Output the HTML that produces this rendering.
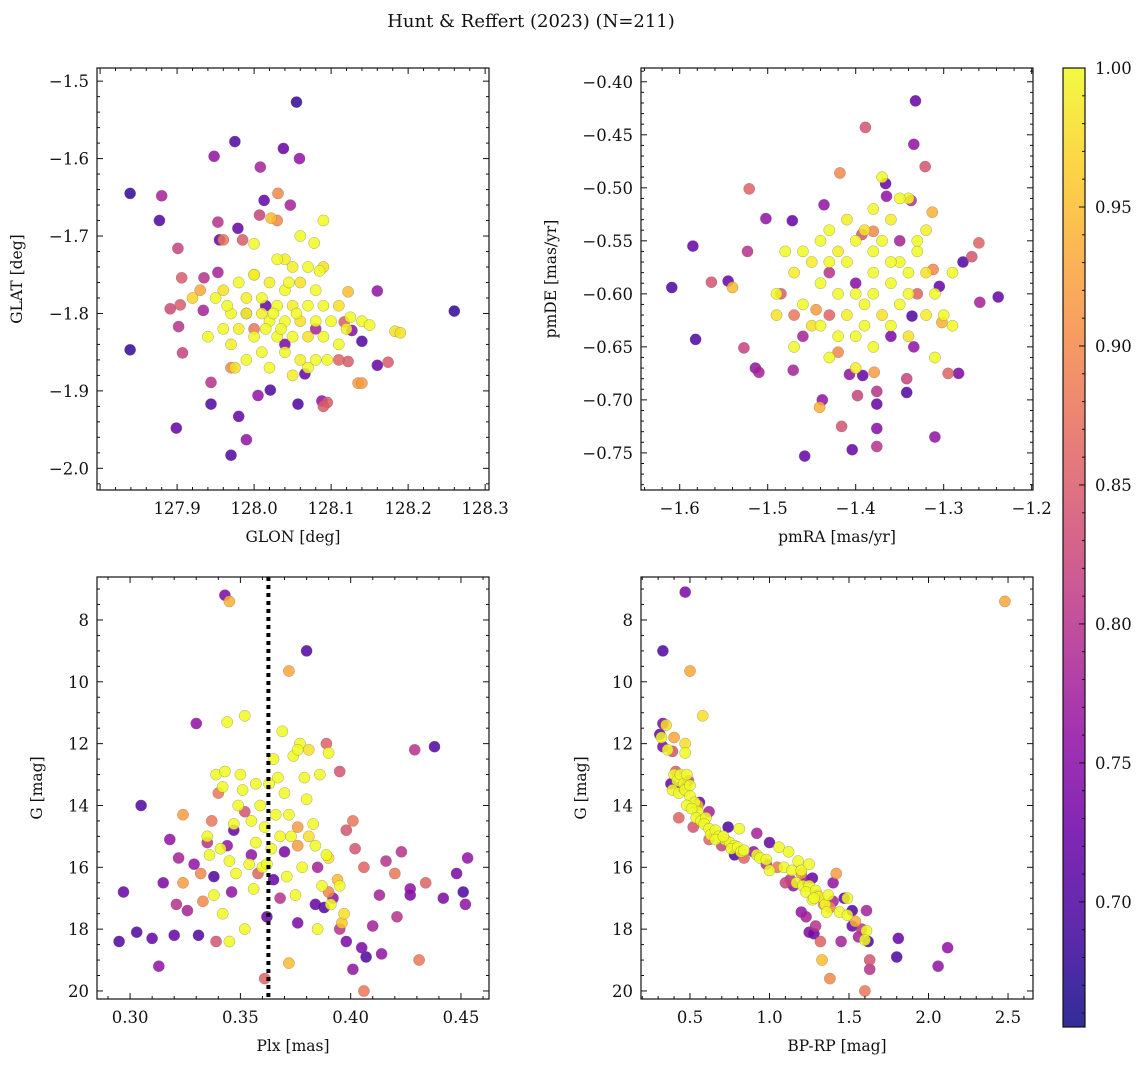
<!DOCTYPE html>
<html><head><meta charset="utf-8"><style>
html,body{margin:0;padding:0;background:#fff;}
svg{display:block;font-family:"DejaVu Serif","Liberation Serif",serif;}
</style></head><body>
<svg id="fig" width="1148" height="1067" viewBox="0 0 1148 1067" xmlns="http://www.w3.org/2000/svg">
<text x="531" y="27" text-anchor="middle" font-size="18" fill="#111">Hunt &amp; Reffert (2023) (N=211)</text>
</svg>
<script>
// ---------- data (value arrays: [x, y, membership probability]) ----------
const posPts = [
[127.839,-1.645,0.68],[127.839,-1.847,0.68],[127.877,-1.680,0.70],[127.880,-1.648,0.78],[127.899,-1.948,0.72],[127.901,-1.716,0.82],
[127.906,-1.754,0.85],[127.904,-1.789,0.85],[127.902,-1.817,0.80],[127.907,-1.851,0.82],[127.891,-1.794,0.83],[127.935,-1.754,0.80],
[127.934,-1.796,0.78],[127.944,-1.889,0.80],[127.944,-1.917,0.70],[127.948,-1.597,0.76],[127.953,-1.682,0.80],[127.955,-1.705,0.72],
[127.953,-1.747,0.78],[127.975,-1.578,0.70],[127.979,-1.690,0.72],[127.980,-1.933,0.72],[127.990,-1.963,0.76],[127.970,-1.983,0.70],
[128.008,-1.611,0.78],[128.007,-1.673,0.82],[128.013,-1.654,0.72],[128.022,-1.677,0.95],[128.031,-1.645,0.90],[128.038,-1.587,0.72],
[128.055,-1.527,0.68],[128.059,-1.600,0.76],[128.047,-1.660,0.78],[128.021,-1.899,0.70],[128.005,-1.906,0.76],[128.057,-1.917,0.70],
[128.088,-1.913,0.76],[128.095,-1.915,0.85],[128.078,-1.709,1.00],[128.260,-1.797,0.68],[128.160,-1.867,0.72],[128.174,-1.863,0.85],
[128.135,-1.890,0.92],[128.160,-1.771,0.76],[128.183,-1.823,0.98],[128.122,-1.772,0.95],[128.117,-1.811,0.85],[128.127,-1.822,0.75],
[128.122,-1.862,0.85],[128.140,-1.836,0.70],[128.066,-1.878,0.72],[128.015,-1.790,0.72],[127.985,-1.705,0.85],[127.960,-1.705,0.88],
[128.030,-1.680,0.90],[128.000,-1.750,0.93],[127.970,-1.870,0.90],[127.930,-1.770,0.93],[128.000,-1.820,0.88],[128.140,-1.890,0.92],
[128.110,-1.860,0.86],[128.090,-1.920,0.85],[128.080,-1.820,0.78],[128.040,-1.840,0.74],[127.990,-1.800,0.80],
[128.03,-1.73,1],[128.05,-1.74,0.99],[128.07,-1.74,1],[128.09,-1.74,0.98],[128.00,-1.75,1],[128.02,-1.76,0.99],[127.98,-1.76,1],
[127.96,-1.77,0.98],[127.95,-1.78,1],[127.99,-1.78,0.99],[128.01,-1.78,1],[128.04,-1.77,1],[128.06,-1.76,0.98],[128.08,-1.77,1],
[128.03,-1.79,1],[128.05,-1.79,0.99],[128.07,-1.79,1],[128.09,-1.79,1],[128.11,-1.79,0.98],[127.97,-1.80,1],[127.99,-1.80,1],
[128.01,-1.80,0.99],[128.02,-1.81,1],[128.04,-1.81,1],[128.06,-1.81,0.98],[128.08,-1.81,1],[128.10,-1.81,1],[128.12,-1.82,0.99],
[128.14,-1.81,1],[127.96,-1.82,1],[127.98,-1.82,0.99],[128.00,-1.83,1],[128.03,-1.83,1],[128.05,-1.83,1],[128.07,-1.83,0.98],
[128.09,-1.83,1],[128.11,-1.84,1],[127.97,-1.84,0.99],[128.01,-1.85,1],[128.04,-1.85,1],[128.06,-1.86,0.99],[128.08,-1.86,1],
[127.99,-1.86,1],[127.975,-1.87,0.98],[128.02,-1.87,1],[128.07,-1.87,1],[128.05,-1.88,0.99],[128.00,-1.71,1],[128.06,-1.70,1],
[128.09,-1.68,1],[128.04,-1.73,0.99],[128.125,-1.805,1],[127.94,-1.83,1],[127.92,-1.78,0.97],[128.19,-1.825,0.98],[128.15,-1.815,1],
[128.085,-1.745,1],[128.045,-1.76,1],[128.025,-1.80,1],[128.055,-1.80,1],[128.015,-1.82,1],[128.035,-1.82,1],[127.965,-1.79,1],[128.095,-1.86,1]
];
const pmPts = [
[-1.609,-0.594,0.70],[-1.585,-0.555,0.72],[-1.582,-0.643,0.70],[-1.564,-0.589,0.84],[-1.545,-0.588,0.72],[-1.540,-0.594,0.95],
[-1.527,-0.651,0.82],[-1.523,-0.560,0.80],[-1.514,-0.670,0.76],[-1.510,-0.674,0.78],[-1.521,-0.501,0.86],[-1.502,-0.529,0.76],
[-1.472,-0.531,0.72],[-1.471,-0.672,0.78],[-1.458,-0.753,0.72],[-1.436,-0.516,0.76],[-1.438,-0.700,0.76],[-1.441,-0.707,0.94],
[-1.418,-0.486,0.90],[-1.416,-0.725,0.84],[-1.404,-0.747,0.72],[-1.407,-0.676,0.76],[-1.398,-0.696,0.82],[-1.392,-0.677,0.72],
[-1.389,-0.443,0.84],[-1.376,-0.692,0.80],[-1.376,-0.727,0.75],[-1.376,-0.744,0.80],[-1.376,-0.704,0.72],[-1.379,-0.674,0.92],
[-1.366,-0.496,0.72],[-1.365,-0.508,0.76],[-1.342,-0.693,0.70],[-1.342,-0.680,0.82],[-1.336,-0.621,0.70],[-1.334,-0.650,0.76],
[-1.334,-0.459,0.76],[-1.332,-0.418,0.72],[-1.321,-0.480,0.84],[-1.313,-0.523,0.94],[-1.310,-0.735,0.76],[-1.312,-0.577,0.90],
[-1.305,-0.593,0.72],[-1.302,-0.627,0.94],[-1.295,-0.675,0.86],[-1.283,-0.675,0.74],[-1.278,-0.570,0.70],[-1.268,-0.565,0.84],
[-1.260,-0.552,0.86],[-1.259,-0.608,0.78],[-1.238,-0.603,0.72],[-1.337,-0.512,0.80],[-1.380,-0.541,0.90],[-1.393,-0.544,0.84],
[-1.430,-0.620,0.86],[-1.445,-0.615,0.92],[-1.420,-0.655,0.90],[-1.460,-0.640,0.78],[-1.350,-0.550,0.78],[-1.400,-0.590,0.75],
[-1.470,-0.620,0.88],[-1.430,-0.580,0.80],[-1.360,-0.640,0.74],[-1.485,-0.600,0.85],[-1.330,-0.600,0.86],
[-1.48,-0.56,1],[-1.47,-0.58,0.99],[-1.49,-0.60,1],[-1.46,-0.61,1],[-1.45,-0.63,0.98],[-1.44,-0.55,1],[-1.43,-0.54,1],
[-1.42,-0.56,0.99],[-1.41,-0.57,1],[-1.40,-0.55,1],[-1.39,-0.54,0.98],[-1.38,-0.56,1],[-1.37,-0.55,1],[-1.36,-0.53,0.99],
[-1.35,-0.57,1],[-1.34,-0.58,1],[-1.33,-0.56,1],[-1.32,-0.58,0.98],[-1.31,-0.60,1],[-1.30,-0.62,1],[-1.42,-0.60,1],
[-1.41,-0.62,0.99],[-1.40,-0.64,1],[-1.39,-0.61,1],[-1.38,-0.60,1],[-1.37,-0.62,0.98],[-1.36,-0.59,1],[-1.35,-0.61,1],
[-1.44,-0.59,1],[-1.45,-0.57,0.99],[-1.47,-0.65,1],[-1.43,-0.66,1],[-1.40,-0.67,0.99],[-1.38,-0.65,1],[-1.36,-0.63,1],
[-1.34,-0.64,0.98],[-1.33,-0.55,1],[-1.37,-0.49,1],[-1.34,-0.51,1],[-1.32,-0.54,0.99],[-1.29,-0.58,1],[-1.29,-0.63,1],
[-1.35,-0.51,1],[-1.38,-0.52,1],[-1.41,-0.53,0.99],[-1.43,-0.57,1],[-1.46,-0.56,1],[-1.44,-0.63,1],[-1.42,-0.64,1],
[-1.40,-0.60,1],[-1.38,-0.58,1],[-1.36,-0.57,1],[-1.34,-0.60,1],[-1.32,-0.62,0.99],[-1.31,-0.66,1],[-1.39,-0.63,1],[-1.49,-0.62,0.98]
];
const plxPts = [
[0.295,18.4,0.70],[0.297,16.8,0.72],[0.303,18.1,0.70],[0.305,14.0,0.70],[0.310,18.3,0.72],[0.313,19.2,0.76],[0.315,16.5,0.74],
[0.318,15.1,0.76],[0.320,18.2,0.72],[0.321,17.2,0.80],[0.322,15.7,0.78],[0.324,14.3,0.92],[0.324,16.5,0.92],[0.326,17.4,0.78],
[0.329,15.9,0.76],[0.330,11.35,0.76],[0.331,18.2,0.70],[0.332,16.2,0.90],[0.333,17.1,0.90],[0.335,15.2,0.80],[0.337,14.5,0.88],
[0.338,16.3,0.70],[0.339,18.4,0.84],[0.340,13.6,0.88],[0.343,7.2,0.74],[0.345,7.4,0.94],[0.344,15.3,0.76],[0.346,16.8,0.76],
[0.347,14.8,0.72],[0.361,19.6,0.86],[0.372,9.65,0.93],[0.380,9.0,0.70],[0.389,12.0,0.86],[0.395,12.9,0.84],[0.398,14.8,0.84],
[0.401,14.5,0.88],[0.402,15.4,0.84],[0.406,16.0,0.86],[0.405,18.6,0.74],[0.407,18.9,0.70],[0.406,20.0,0.88],[0.410,17.9,0.78],
[0.413,16.9,0.78],[0.414,18.8,0.76],[0.416,15.8,0.80],[0.420,16.2,0.88],[0.421,17.6,0.80],[0.423,15.5,0.80],[0.427,16.7,0.76],
[0.427,16.9,0.74],[0.429,12.2,0.80],[0.431,19.0,0.88],[0.434,16.5,0.86],[0.438,12.1,0.70],[0.442,17.0,0.74],[0.448,16.2,0.74],
[0.451,16.8,0.70],[0.452,17.2,0.76],[0.453,15.7,0.76],[0.395,18.0,0.80],[0.398,18.4,0.74],[0.401,19.3,0.76],[0.390,16.8,0.90],
[0.388,17.3,0.70],[0.384,17.2,0.72],[0.376,17.8,0.74],[0.372,19.1,0.95],[0.392,17.0,0.76],[0.376,14.7,0.92],[0.365,16.4,0.72],
[0.362,17.6,0.72],[0.368,17.0,0.80],[0.355,15.6,0.76],[0.352,14.2,0.84],[0.358,16.2,0.86],[0.370,15.5,0.74],[0.385,16.0,0.78],
[0.394,16.4,0.95],[0.397,17.5,0.98],[0.396,17.8,0.96],[0.390,15.7,0.98],[0.381,15.0,0.98],[0.386,13.0,1.0],[0.381,12.2,0.98],
[0.376,15.3,0.92],[0.352,18.0,1],[0.345,18.4,1],[0.342,17.5,1],[0.338,16.9,1],[0.336,15.6,1],[0.335,15.0,1],[0.339,13.0,1],
[0.342,13.4,1],[0.344,11.3,1],[0.352,11.1,1],[0.350,13.0,1],[0.351,13.5,1],[0.355,14.5,1],[0.357,15.2,1],[0.356,16.7,1],
[0.359,14.0,1],[0.361,14.7,1],[0.363,13.3,1],[0.365,12.5,1],[0.367,13.1,1],[0.369,11.6,1],[0.370,13.6,1],[0.372,14.3,1],
[0.373,15.0,1],[0.371,16.3,1],[0.375,16.9,1],[0.378,16.0,1],[0.379,13.1,1],[0.377,12.0,1],[0.380,13.8,1],[0.383,14.6,1],
[0.384,15.3,1],[0.387,16.6,1],[0.389,15.6,1],[0.391,17.2,1],[0.395,16.6,1],[0.345,15.8,1],[0.348,16.2,1],[0.341,15.4,1],
[0.347,14.6,1],[0.354,15.9,1],[0.360,16.0,1],[0.364,15.4,1],[0.366,14.3,1],[0.374,12.4,1],[0.376,12.2,1],[0.385,18.0,1],
[0.390,12.3,1],[0.343,12.9,1],[0.349,14.0,1],[0.357,13.3,1],[0.362,15.9,1],[0.368,15.0,1]
];
const cmdPts = [
[0.47,7.1,0.74],[2.48,7.4,0.93],[0.33,9.0,0.70],[0.50,9.65,0.93],[0.58,11.1,0.98],[0.31,11.7,0.72],[0.33,11.35,0.74],
[0.35,11.4,0.98],[0.33,12.1,0.74],[0.39,12.25,0.84],[0.40,11.8,0.93],[0.47,12.0,0.98],[0.47,12.3,1],[0.36,12.2,1],[0.32,11.8,1],
[1.81,18.3,0.72],[1.80,18.9,0.70],[2.06,19.2,0.76],[2.12,18.6,0.76],[1.62,18.4,0.70],[1.63,19.3,0.80],[1.60,20.0,0.88],
[1.38,19.6,0.90],[1.33,19.0,0.95],[1.32,18.4,0.86],[1.25,18.1,0.74],[1.28,18.15,0.72],[1.29,17.9,0.80],[1.20,17.45,0.76],
[1.23,17.6,0.78],[1.58,18.0,0.80],[1.56,18.25,0.78],[1.61,17.4,0.78],[1.52,17.4,0.70],[1.47,17.0,0.72],[1.40,16.5,0.76],
[1.45,18.4,0.78],[1.63,19.0,0.84],[1.52,17.9,0.72],[1.54,17.75,0.94],[0.38,13.3,0.72],[0.44,13.4,0.78],[0.56,13.9,0.72],
[0.62,14.2,0.78],[0.74,14.7,0.70],[0.92,14.9,0.78],[1.00,15.2,0.72],[0.55,14.0,0.95],[0.41,12.9,0.85],[0.49,13.2,0.82],
[0.43,14.4,0.86],[0.52,14.7,0.84],[0.62,15.1,0.86],[0.70,15.3,0.82],[0.84,15.7,0.86],[0.98,15.9,0.80],[1.05,16.0,0.88],
[1.13,16.4,0.80],[1.15,16.6,0.76],[1.22,16.4,0.76],[1.30,16.9,0.84],[1.34,17.2,0.90],[1.40,17.1,0.78],[1.38,17.3,0.90],
[1.42,16.2,0.92],[1.20,16.2,0.92],[1.27,16.35,0.72],[0.78,15.6,0.70],[0.90,15.5,0.76],[1.10,16.5,0.82],
[0.40,13.0,1],[0.42,13.2,1],[0.44,13.0,1],[0.46,13.3,1],[0.48,13.0,1],[0.39,13.5,1],[0.43,13.6,1],[0.47,13.5,1],[0.50,13.35,1],
[0.50,13.7,1],[0.53,13.9,1],[0.55,14.2,1],[0.48,14.0,1],[0.51,14.1,1],[0.54,14.4,1],[0.57,14.5,1],[0.60,14.4,1],[0.59,14.6,1],
[0.62,14.75,1],[0.63,14.95,1],[0.66,14.8,1],[0.68,15.0,1],[0.72,15.1,1],[0.75,15.2,1],[0.78,15.3,1],[0.76,15.4,1],[0.80,15.35,1],
[0.82,15.5,1],[0.84,15.45,1],[0.92,15.6,1],[0.94,15.7,1],[0.98,15.75,1],[1.06,15.35,1],[1.12,15.5,1],[1.09,16.0,1],[1.14,16.1,1],
[1.18,15.8,1],[1.20,16.1,1],[1.25,15.9,1],[1.17,16.5,1],[1.21,16.6,1],[1.25,16.6,1],[1.23,16.8,1],[1.29,16.75,1],[1.31,16.95,1],
[1.27,17.05,1],[1.35,17.2,1],[1.36,17.45,1],[1.28,17.0,1],[1.37,16.9,1],[1.44,17.45,1],[1.49,17.55,1],[1.49,17.0,1],
[1.61,18.05,1],[1.60,18.35,1],[0.81,14.75,1],[0.66,15.1,1],[0.71,15.0,1],[1.00,16.1,1]
];
const cbTicks = [0.70,0.75,0.80,0.85,0.90,0.95,1.00];
const pMin = 0.655, pMax = 1.0;

// ---------- helpers ----------
const NS = "http://www.w3.org/2000/svg";
const svg = document.getElementById("fig");
function mk(tag, attrs, parent) {
  const e = document.createElementNS(NS, tag);
  for (const k in attrs) e.setAttribute(k, attrs[k]);
  (parent || svg).appendChild(e);
  return e;
}
const plasma = [[0,13,8,135],[0.1,65,4,157],[0.2,106,0,168],[0.3,143,13,164],[0.4,177,42,144],[0.5,204,71,120],[0.6,225,100,98],[0.7,242,132,75],[0.8,252,166,54],[0.9,252,206,37],[1,240,249,33]];
function cmap(t) {
  t = Math.max(0, Math.min(1, t));
  for (let i = 1; i < plasma.length; i++) {
    if (t <= plasma[i][0]) {
      const a = plasma[i-1], b = plasma[i], f = (t - a[0]) / (b[0] - a[0]);
      return `rgb(${Math.round(a[1]+f*(b[1]-a[1]))},${Math.round(a[2]+f*(b[2]-a[2]))},${Math.round(a[3]+f*(b[3]-a[3]))})`;
    }
  }
  return "rgb(240,249,33)";
}
function pcolor(p){ return cmap((p - pMin) / (pMax - pMin)); }

function panel(cfg) {
  const g = mk("g", {});
  
  
  const {L, T, W, H, x0, x1, y0, y1} = cfg;
  const sx = v => L + (v - x0) / (x1 - x0) * W;
  const syy = cfg.invert ? (v => T + (v - y0) / (y1 - y0) * H) : (v => T + (y1 - v) / (y1 - y0) * H);
  const pts = cfg.pts.slice().sort((a, b) => a[2] - b[2]);
  const clip = mk("clipPath", {id: "c" + cfg.name}, g);
  mk("rect", {x: L, y: T, width: W, height: H}, clip);
  const mg = mk("g", {"clip-path": `url(#c${cfg.name})`}, g);
  
  
  for (const p of pts) {
    const c = mk("circle", {cx: sx(p[0]).toFixed(1), cy: syy(p[1]).toFixed(1), r: 5.6, fill: pcolor(p[2]), "fill-opacity": 0.85, stroke: "#666", "stroke-width": 0.4, "stroke-opacity": 0.7}, mg);
    
    
  }
  if (cfg.vline !== undefined) {
    const ln = mk("line", {x1: sx(cfg.vline), x2: sx(cfg.vline), y1: T, y2: T + H, stroke: "#000", "stroke-width": 4, "stroke-dasharray": "4,4"}, mg);
    
    
  }
  mk("rect", {x: L, y: T, width: W, height: H, fill: "none", stroke: "#111", "stroke-width": 1.2}, g);
  const tg = mk("g", {stroke: "#111", "stroke-width": 1}, g);
  for (let v = cfg.xMinorStart; v <= x1 + 1e-9; v += cfg.xMinor) {
    if (v < x0) continue;
    const X = sx(v); const major = Math.abs(Math.round(v / cfg.xMajor) * cfg.xMajor - v) < 1e-6;
    const len = major ? 6 : 3;
    mk("line", {x1: X, x2: X, y1: T + H, y2: T + H - len}, tg);
    mk("line", {x1: X, x2: X, y1: T, y2: T + len}, tg);
  }
  for (let v = cfg.yMinorStart; v <= y1 + 1e-9; v += cfg.yMinor) {
    if (v < y0) continue;
    const Y = syy(v); const major = Math.abs(Math.round(v / cfg.yMajor) * cfg.yMajor - v) < 1e-6;
    const len = major ? 6 : 3;
    mk("line", {x1: L, x2: L + len, y1: Y, y2: Y}, tg);
    mk("line", {x1: L + W, x2: L + W - len, y1: Y, y2: Y}, tg);
  }
  for (const v of cfg.xTicks) {
    const t = mk("text", {x: sx(v), y: T + H + 24, "text-anchor": "middle", "font-size": 16.5, fill: "#111"}, g);
    t.textContent = cfg.xFmt(v);
    
    
  }
  for (const v of cfg.yTicks) {
    const t = mk("text", {x: L - 8, y: syy(v) + 6, "text-anchor": "end", "font-size": 16.5, fill: "#111"}, g);
    t.textContent = cfg.yFmt(v);
    
    
  }
  const xt = mk("text", {x: L + W / 2, y: T + H + 52, "text-anchor": "middle", "font-size": 15.5, fill: "#111"}, g);
  xt.textContent = cfg.xLabel;
  
  
  const yt = mk("text", {x: 0, y: 0, "text-anchor": "middle", "font-size": 15.5, fill: "#111", transform: `translate(${cfg.yLabelX},${T + H / 2}) rotate(-90)`}, g);
  yt.textContent = cfg.yLabel;
  
  
}
const m = s => s.replace("-", "\u2212");

panel({name: "glon-glat-panel", pts: posPts, L: 97, T: 68, W: 392, H: 422, x0: 127.796, x1: 128.305, y0: -2.028, y1: -1.483,
  xMajor: 0.1, xMinor: 0.02, xMinorStart: 127.8, yMajor: 0.1, yMinor: 0.02, yMinorStart: -2.02,
  xTicks: [127.9, 128.0, 128.1, 128.2, 128.3], yTicks: [-2.0, -1.9, -1.8, -1.7, -1.6, -1.5],
  xFmt: v => v.toFixed(1), yFmt: v => m(v.toFixed(1)), xLabel: "GLON [deg]", yLabel: "GLAT [deg]", yLabelX: 22});
panel({name: "proper-motion-panel", pts: pmPts, L: 641, T: 68, W: 392, H: 422, x0: -1.644, x1: -1.1985, y0: -0.785, y1: -0.387,
  xMajor: 0.1, xMinor: 0.02, xMinorStart: -1.64, yMajor: 0.05, yMinor: 0.01, yMinorStart: -0.78,
  xTicks: [-1.6, -1.5, -1.4, -1.3, -1.2], yTicks: [-0.75, -0.70, -0.65, -0.60, -0.55, -0.50, -0.45, -0.40],
  xFmt: v => m(v.toFixed(1)), yFmt: v => m(v.toFixed(2)), xLabel: "pmRA [mas/yr]", yLabel: "pmDE [mas/yr]", yLabelX: 556});
panel({name: "parallax-mag-panel", pts: plxPts, L: 97, T: 577, W: 392, H: 422, x0: 0.285, x1: 0.4627, y0: 6.61, y1: 20.26, invert: true, vline: 0.3627,
  xMajor: 0.05, xMinor: 0.01, xMinorStart: 0.29, yMajor: 2, yMinor: 0.5, yMinorStart: 7,
  xTicks: [0.30, 0.35, 0.40, 0.45], yTicks: [8, 10, 12, 14, 16, 18, 20],
  xFmt: v => v.toFixed(2), yFmt: v => String(v), xLabel: "Plx [mas]", yLabel: "G [mag]", yLabelX: 42});
panel({name: "cmd-panel", pts: cmdPts, L: 641, T: 577, W: 392, H: 422, x0: 0.192, x1: 2.657, y0: 6.61, y1: 20.26, invert: true,
  xMajor: 0.5, xMinor: 0.1, xMinorStart: 0.2, yMajor: 2, yMinor: 0.5, yMinorStart: 7,
  xTicks: [0.5, 1.0, 1.5, 2.0, 2.5], yTicks: [8, 10, 12, 14, 16, 18, 20],
  xFmt: v => v.toFixed(1), yFmt: v => String(v), xLabel: "BP-RP [mag]", yLabel: "G [mag]", yLabelX: 586});

// ---------- colorbar ----------
(function(){
  const L = 1063, T = 68, W = 22, H = 959;
  const cb = mk("g", {});
  
  
  const defs = mk("defs", {}, cb);
  const lg = mk("linearGradient", {id: "cbg", x1: 0, y1: 1, x2: 0, y2: 0}, defs);
  for (let i = 0; i <= 20; i++) mk("stop", {offset: i / 20, "stop-color": cmap(i / 20), "stop-opacity": 0.85}, lg);
  mk("rect", {x: L, y: T, width: W, height: H, fill: "url(#cbg)", stroke: "#111", "stroke-width": 1.2}, cb);
  const sy = v => T + (pMax - v) / (pMax - pMin) * H;
  for (let v = 0.66; v <= 1.0001; v += 0.01) {
    const major = Math.abs(Math.round(v * 20) / 20 - v) < 1e-6;
    mk("line", {x1: L + W, x2: L + W - (major ? 6 : 3), y1: sy(v), y2: sy(v), stroke: "#111"}, cb);
  }
  for (const v of cbTicks) {
    const t = mk("text", {x: L + W + 10, y: sy(v) + 6, "font-size": 16.5, fill: "#111"}, cb);
    t.textContent = v.toFixed(2);
    
    
  }
})();
</script>
</body></html>
